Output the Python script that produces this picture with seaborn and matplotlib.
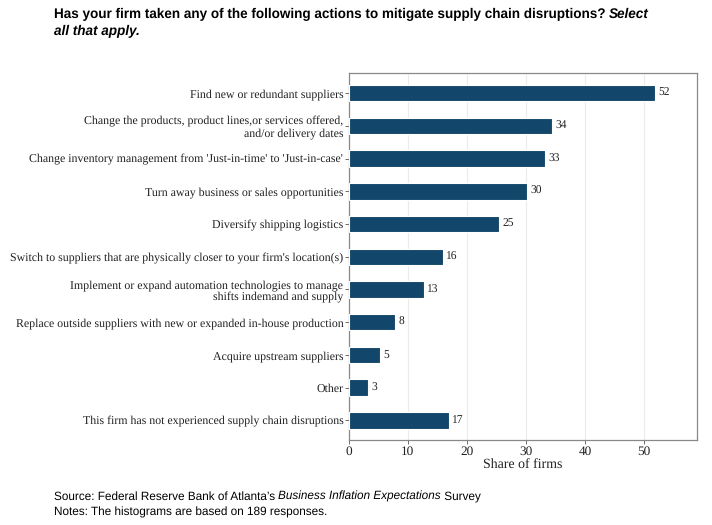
import matplotlib
matplotlib.use("Agg")
import matplotlib.pyplot as plt
import numpy as np
import pandas as pd
import seaborn as sns

actions = [
    "Find new or redundant suppliers",
    "Change the products, product lines,or services offered,\nand/or delivery dates",
    "Change inventory management from 'Just-in-time' to 'Just-in-case'",
    "Turn away business or sales opportunities",
    "Diversify shipping logistics",
    "Switch to suppliers that are physically closer to your firm's location(s)",
    "Implement or expand automation technologies to manage\nshifts indemand and supply",
    "Replace outside suppliers with new or expanded in-house production",
    "Acquire upstream suppliers",
    "Other",
    "This firm has not experienced supply chain disruptions",
]
share = [51.9, 34.4, 33.3, 30.2, 25.4, 15.9, 12.7, 7.9, 5.3, 3.2, 16.9]
x_ticks = [0, 10, 20, 30, 40, 50]

df = pd.DataFrame({"action": actions, "share": share})

sns.set_theme(style="white")
plt.rcParams["font.family"] = ["Liberation Serif", "DejaVu Serif"]
plt.rcParams["text.hinting"] = "no_hinting"

fig = plt.figure(figsize=(7.12, 5.25), dpi=100)
ax = fig.add_axes([0.490, 0.162, 0.489, 0.699])

sns.barplot(data=df, x="share", y="action", color="#12466a", width=0.5,
            edgecolor="white", linewidth=0.8, saturation=1, ax=ax, zorder=3)

for patch, v in zip(ax.patches, share):
    y = patch.get_y() + patch.get_height() / 2
    ax.annotate(f"{v:.0f}", (patch.get_width(), y), xytext=(2.5, 0),
                textcoords="offset points", va="center", ha="left",
                fontsize=8.3, color="#222222")

ax.set_xlim(0, 59)
ax.set_ylim(len(actions) - 0.4, -0.62)
ax.set_xticks(x_ticks)
ax.xaxis.grid(True, color="#ebebeb", linewidth=0.8, zorder=0)
ax.set_axisbelow(True)
ax.set_xlabel("Share of firms", fontsize=10, color="#222222", labelpad=1)
ax.set_ylabel("")
ax.tick_params(axis="both", length=3, width=0.6, color="#555555",
               labelsize=8.6, labelcolor="#222222", pad=1, bottom=True, left=True)
ax.tick_params(axis="x", labelsize=9.5)
for s in ax.spines.values():
    s.set_color("#888888")
    s.set_linewidth(0.9)
for lbl in ax.get_yticklabels():
    lbl.set_linespacing(1.1)

# title with mixed bold / bold italic runs
renderer = fig.canvas.get_renderer()
sans = ["Liberation Sans", "DejaVu Sans"]


def run_text(x, y, parts, size, weight):
    for txt, style in parts:
        t = fig.text(x, y, txt, fontsize=size, fontweight=weight, fontstyle=style,
                     family=sans, va="top", ha="left", color="black")
        bb = t.get_window_extent(renderer)
        x += bb.width / fig.bbox.width


run_text(54 / 712, 1 - 8 / 525, [
    ("Has your firm taken any of the following actions to mitigate supply chain disruptions? ", "normal"),
    ("Select", "italic"),
], 9.75, "bold")
run_text(54 / 712, 1 - 25 / 525, [("all that apply.", "italic")], 9.75, "bold")

run_text(54 / 712, 1 - 491 / 525, [
    ("Source: Federal Reserve Bank of Atlanta\u2019s ", "normal"),
    ("Business Inflation Expectations", "italic"),
    (" Survey", "normal"),
], 8.5, "normal")
run_text(54 / 712, 1 - 507 / 525,
         [("Notes: The histograms are based on 189 responses.", "normal")], 8.5, "normal")

fig.savefig("out.png", dpi=100)
plt.close(fig)
